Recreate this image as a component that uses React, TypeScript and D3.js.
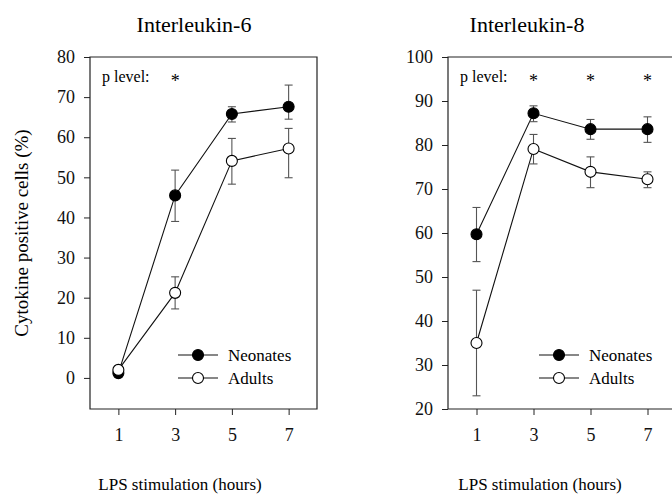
import React, { useEffect, useRef } from "react";
import * as d3 from "d3";

// LPS stimulation time points (hours)
const hours = [1, 3, 5, 7];
const xTicks = [1, 3, 5, 7];

// Interleukin-6, % cytokine positive cells
const il6Neonates = [1.2, 45.5, 65.8, 67.6];
const il6NeonatesLo = [0.6, 39.0, 63.8, 64.5];
const il6NeonatesHi = [1.8, 51.8, 67.6, 73.0];
const il6Adults = [2.0, 21.2, 54.1, 57.2];
const il6AdultsLo = [1.4, 17.2, 48.3, 49.9];
const il6AdultsHi = [2.6, 25.2, 59.7, 62.2];
const il6Ticks = [0, 10, 20, 30, 40, 50, 60, 70, 80];
const il6Stars = [3];

// Interleukin-8
const il8Neonates = [59.7, 87.2, 83.6, 83.6];
const il8NeonatesLo = [53.5, 85.3, 81.3, 80.6];
const il8NeonatesHi = [65.8, 88.9, 85.8, 86.4];
const il8Adults = [35.0, 79.1, 73.9, 72.2];
const il8AdultsLo = [23.0, 75.7, 70.3, 70.3];
const il8AdultsHi = [47.0, 82.4, 77.3, 73.9];
const il8Ticks = [20, 30, 40, 50, 60, 70, 80, 90, 100];
const il8Stars = [3, 5, 7];

const seriesNames = ["Neonates", "Adults"];

const FONT = "Liberation Serif, Times New Roman, DejaVu Serif, serif";

type Panel = {
  left: number;
  right: number;
  title: string;
  titleX: number;
  labelX: number;
  yDomain: [number, number];
  yTicks: number[];
  neo: number[];
  neoLo: number[];
  neoHi: number[];
  adu: number[];
  aduLo: number[];
  aduHi: number[];
  stars: number[];
  legendX: number;
};

function drawPanel(svg: any, p: Panel) {
  var top = 57,
    bottom = 409,
    axisColor = "#222",
    errColor = "#555",
    r = 5.5,
    capW = 4;

  var x = d3.scaleLinear().domain([0, 8]).range([p.left, p.right]);
  var y = d3.scaleLinear().domain(p.yDomain).range([bottom, top]);

  var g = svg.append("g");

  // box
  g.append("path")
    .attr(
      "d",
      "M" + p.left + "," + bottom + "V" + top + "H" + p.right + "V" + bottom + "Z"
    )
    .style("fill", "none")
    .style("stroke", axisColor)
    .style("stroke-width", "1.2px");

  // y axis ticks
  var yAxis = d3
    .axisLeft(y)
    .tickValues(p.yTicks)
    .tickSizeInner(6)
    .tickSizeOuter(0)
    .tickPadding(9)
    .tickFormat(d3.format("d"));
  var ya = g
    .append("g")
    .attr("transform", "translate(" + p.left + ",0)")
    .call(yAxis)
    .attr("font-family", FONT)
    .attr("font-size", 18);
  ya.select("path").remove();
  ya.selectAll(".tick line").style("stroke", axisColor);
  ya.selectAll(".tick text").style("fill", "#111");

  // x axis ticks
  var xAxis = d3
    .axisBottom(x)
    .tickValues(xTicks)
    .tickSizeInner(6)
    .tickSizeOuter(0)
    .tickPadding(13)
    .tickFormat(d3.format("d"));
  var xa = g
    .append("g")
    .attr("transform", "translate(0," + bottom + ")")
    .call(xAxis)
    .attr("font-family", FONT)
    .attr("font-size", 18);
  xa.select("path").remove();
  xa.selectAll(".tick line").style("stroke", axisColor);
  xa.selectAll(".tick text").style("fill", "#111");

  // title and x label
  g.append("text")
    .attr("x", p.titleX)
    .attr("y", 32)
    .attr("text-anchor", "middle")
    .attr("font-size", 22)
    .text(p.title);

  g.append("text")
    .attr("x", p.labelX)
    .attr("y", 490)
    .attr("text-anchor", "middle")
    .attr("font-size", 17)
    .text("LPS stimulation (hours)");

  // p level row
  g.append("text")
    .attr("x", p.left + 12)
    .attr("y", 82)
    .attr("font-size", 16)
    .text("p level:");
  g.selectAll(".star")
    .data(p.stars)
    .enter()
    .append("text")
    .attr("x", (d: number) => x(d))
    .attr("y", 87)
    .attr("text-anchor", "middle")
    .attr("font-size", 18)
    .text("*");

  var line = d3
    .line<number>()
    .x((d, i) => x(hours[i]))
    .y((d) => y(d));

  var series = [
    { v: p.neo, lo: p.neoLo, hi: p.neoHi, fill: "#000" },
    { v: p.adu, lo: p.aduLo, hi: p.aduHi, fill: "#fff" }
  ];

  series.forEach(function (s) {
    g.append("path")
      .attr("d", line(s.v))
      .style("fill", "none")
      .style("stroke", "#111")
      .style("stroke-width", "1.1px");
  });

  series.forEach(function (s) {
    var eb = g.append("g").style("stroke", errColor).style("stroke-width", "1.1px");
    hours.forEach(function (h, i) {
      var cx = x(h);
      eb.append("line")
        .attr("x1", cx)
        .attr("x2", cx)
        .attr("y1", y(s.lo[i]))
        .attr("y2", y(s.hi[i]));
      [s.lo[i], s.hi[i]].forEach(function (v) {
        eb.append("line")
          .attr("x1", cx - capW)
          .attr("x2", cx + capW)
          .attr("y1", y(v))
          .attr("y2", y(v));
      });
    });
  });

  series.forEach(function (s) {
    g.append("g")
      .selectAll("circle")
      .data(s.v)
      .enter()
      .append("circle")
      .attr("cx", (d: number, i: number) => x(hours[i]))
      .attr("cy", (d: number) => y(d))
      .attr("r", r)
      .style("fill", s.fill)
      .style("stroke", "#000")
      .style("stroke-width", "1.1px");
  });

  // legend
  var legY = [355, 378];
  series.forEach(function (s, i) {
    g.append("line")
      .attr("x1", p.legendX)
      .attr("x2", p.legendX + 40)
      .attr("y1", legY[i])
      .attr("y2", legY[i])
      .style("stroke", "#111")
      .style("stroke-width", "1.1px");
    g.append("circle")
      .attr("cx", p.legendX + 20)
      .attr("cy", legY[i])
      .attr("r", r)
      .style("fill", s.fill)
      .style("stroke", "#000")
      .style("stroke-width", "1.1px");
    g.append("text")
      .attr("x", p.legendX + 50)
      .attr("y", legY[i] + 6)
      .attr("font-size", 17)
      .text(seriesNames[i]);
  });
}

function draw(container: HTMLElement) {
  d3.select(container).selectAll("svg").remove();
  var svg = d3
    .select(container)
    .append("svg")
    .attr("width", 672)
    .attr("height", 494)
    .attr("font-family", FONT)
    .style("position", "absolute")
    .style("left", "0px")
    .style("top", "0px")
    .style("background", "#fff");

  // shared y axis title
  svg
    .append("text")
    .attr("transform", "translate(28,233) rotate(-90)")
    .attr("text-anchor", "middle")
    .attr("font-size", 19)
    .text("Cytokine positive cells (%)");

  drawPanel(svg, {
    left: 90,
    right: 317,
    title: "Interleukin-6",
    titleX: 194,
    labelX: 180,
    yDomain: [-7.75, 80],
    yTicks: il6Ticks,
    neo: il6Neonates,
    neoLo: il6NeonatesLo,
    neoHi: il6NeonatesHi,
    adu: il6Adults,
    aduLo: il6AdultsLo,
    aduHi: il6AdultsHi,
    stars: il6Stars,
    legendX: 178
  });

  drawPanel(svg, {
    left: 448,
    right: 676,
    title: "Interleukin-8",
    titleX: 527,
    labelX: 540,
    yDomain: [20, 100],
    yTicks: il8Ticks,
    neo: il8Neonates,
    neoLo: il8NeonatesLo,
    neoHi: il8NeonatesHi,
    adu: il8Adults,
    aduLo: il8AdultsLo,
    aduHi: il8AdultsHi,
    stars: il8Stars,
    legendX: 539
  });
}

export default function App() {
  const ref = useRef<HTMLDivElement>(null);
  useEffect(() => {
    if (ref.current) draw(ref.current);
  }, []);
  return <div ref={ref} />;
}
